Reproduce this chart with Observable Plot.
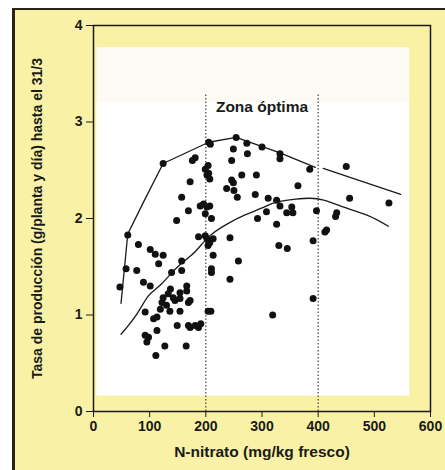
<!DOCTYPE html>
<html><head><meta charset="utf-8">
<script src="https://cdn.jsdelivr.net/npm/d3@7"></script>
<script src="https://cdn.jsdelivr.net/npm/@observablehq/plot@0.6"></script>
<style>
body{margin:0;background:#fff;}
#wrap{position:relative;width:445px;height:470px;overflow:hidden;}
#bg{position:absolute;left:12px;top:8px;right:0;bottom:0;background:#f9f2a6;border-left:3px solid #2a2418;border-top:2px solid #2a2418;}
#chart{position:absolute;left:0;top:0;}
</style></head>
<body><div id="wrap"><div id="bg"></div><div id="chart"></div></div>
<script>
// ---- data ----
const nitrate = [47,58,61,77,80,89,92,92,95,98,101,101,107,110,113,111,113,116,119,122,124,124,127,130,133,136,137,139,142,145,149,154,154,154,157,157,165,166,166,169,169,172,172,181,187,191,204,209,124,
  148,157,169,172,176,181,187,190,196,202,199,207,210,199,202,204,207,205,199,204,207,213,207,202,213,210,210,205,208,
  243,243,258,249,246,254,264,256,237,246,249,250,274,273,300,290,288,292,308,311,326,332,326,330,345,332,332,344,355,353,364,385,397,391,391,319,412,415,431,433,450,456,526];
const rate = [1.29,1.48,1.83,1.46,1.73,1.34,1.03,0.79,0.72,0.77,1.30,1.68,0.96,1.63,0.98,0.58,0.84,1.53,1.06,1.13,1.18,1.62,0.68,1.10,1.22,1.04,1.27,1.44,1.18,1.15,0.89,1.04,1.17,1.23,1.46,1.56,0.68,1.25,1.30,1.13,0.89,1.15,0.87,0.89,0.87,0.91,1.04,1.04,2.57,
  1.98,2.22,2.08,2.38,2.60,2.63,1.81,2.13,2.15,2.12,2.05,2.13,2.00,2.51,2.45,2.55,2.41,2.47,1.82,1.72,1.77,1.79,1.75,1.79,1.62,1.48,1.44,2.79,2.77,
  1.80,1.37,1.56,2.72,2.60,2.84,2.45,2.22,2.31,2.40,2.37,2.29,2.67,2.78,2.74,2.45,2.25,2.00,2.07,2.21,2.19,2.13,1.94,1.72,1.69,2.67,2.62,2.06,2.06,2.12,2.34,2.51,2.08,1.77,1.17,1.00,1.86,1.88,2.02,2.06,2.54,2.21,2.16];
const upperX = [49,61,89,124,205,254,332,395,null,409,547];
const upperY = [1.12,1.84,2.17,2.57,2.79,2.84,2.68,2.53,null,2.52,2.25];
const lowerX = [49,75,98,119,150,180,207,240,267,300,326,360,385,410,444,489,525];
const lowerY = [0.80,0.99,1.20,1.31,1.50,1.65,1.82,1.95,2.03,2.11,2.17,2.20,2.21,2.19,2.12,2.03,1.92];
const optimumBounds = [200,400];
const zoneLabel = "Zona óptima";
const xTicks = [0,100,200,300,400,500,600];
const yTicks = [0,1,2,3,4];
const xLabel = "N-nitrato (mg/kg fresco)";
const yLabel = "Tasa de producción (g/planta y día) hasta el 31/3";

// ---- tables built from the arrays ----
const points = nitrate.map((x,i)=>({x, y: rate[i]}));
const upper = upperX.map((x,i)=>({x: x ?? NaN, y: upperY[i] ?? NaN}));
const lower = lowerX.map((x,i)=>({x, y: lowerY[i]}));
const panels = [
  {x1:6, x2:563, y1:3.2, y2:3.77, fill:"#fcfcf4"},
  {x1:6, x2:563, y1:0.16, y2:3.2, fill:"#ffffff"}
];

const ink = "#1a1a1a";
const chart = Plot.plot({
  width:445, height:470,
  marginLeft:93, marginRight:15, marginTop:25, marginBottom:59,
  style:{background:"transparent", fontFamily:"'Liberation Sans', Arial, sans-serif", fontWeight:"bold", fontSize:"14px", color:ink},
  x:{domain:[0,600]},
  y:{domain:[0,4]},
  marks:[
    Plot.rect(panels, {x1:"x1", x2:"x2", y1:"y1", y2:"y2", fill:"fill"}),
    Plot.ruleX(optimumBounds, {y1:0, y2:3.3, stroke:ink, strokeWidth:1, strokeDasharray:"1.5,2"}),
    Plot.text([zoneLabel], {x: d3.mean(optimumBounds), y:3.15, text:d=>d, fontSize:15.5, fontWeight:"bold", fill:ink}),
    Plot.line(upper, {x:"x", y:"y", stroke:ink, strokeWidth:1.3}),
    Plot.line(lower, {x:"x", y:"y", curve:"natural", stroke:ink, strokeWidth:1.3}),
    Plot.dot(points, {x:"x", y:"y", r:3.5, fill:"#111", stroke:"none"}),
    Plot.frame({stroke:ink, strokeWidth:1.5}),
    Plot.axisX({ticks:xTicks, tickFormat:d=>String(d), tickSize:6, tickPadding:4, fontSize:14, label:null, stroke:ink}),
    Plot.axisX({ticks:[], label:xLabel, labelAnchor:"center", labelOffset:45, labelArrow:"none", fontSize:15.5}),
    Plot.axisY({ticks:yTicks, tickFormat:d=>String(d), tickSize:7, tickPadding:4, fontSize:14, label:yLabel, labelAnchor:"center", labelOffset:61, labelArrow:"none", stroke:ink})
  ]
});
document.getElementById("chart").appendChild(chart);
</script>
</body></html>
